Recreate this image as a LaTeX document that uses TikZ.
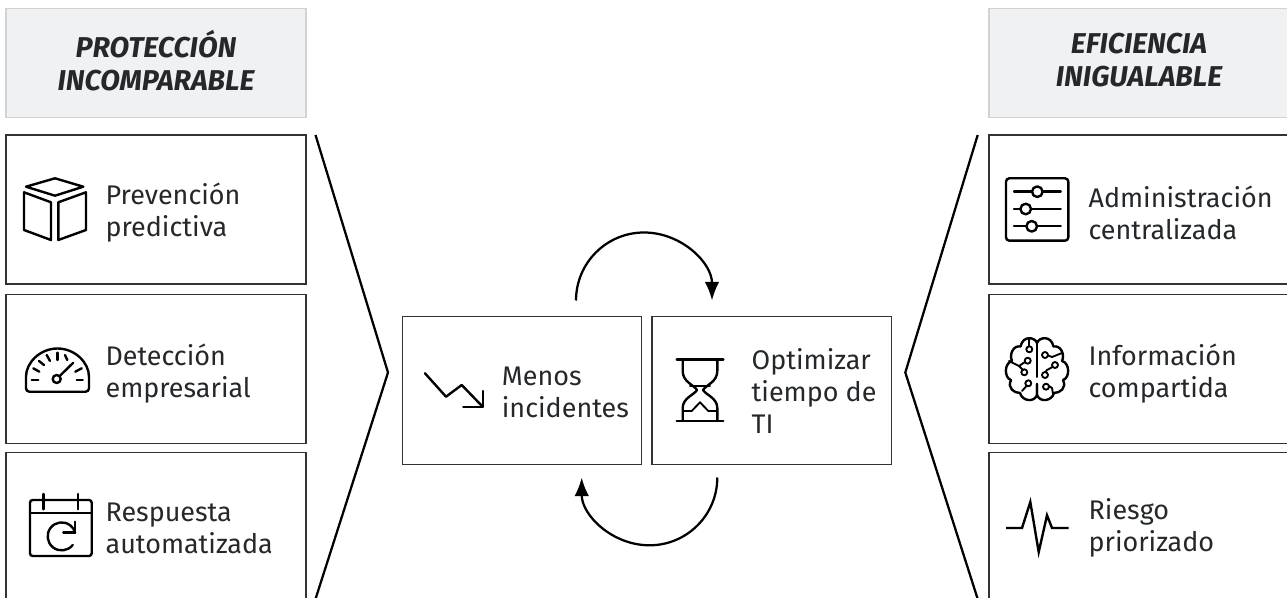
\documentclass[tikz,border=0pt]{standalone}
\usepackage{fontspec}
\setmainfont{Fira Sans}
\usetikzlibrary{arrows.meta, positioning}
\definecolor{hdrfill}{HTML}{F0F1F3}
\definecolor{hdrline}{HTML}{D0D3D6}
\definecolor{boxline}{HTML}{333333}
\definecolor{inktext}{HTML}{25282B}
\tikzset{
      hdr box/.style={
		fill=hdrfill,
		draw=hdrline,
		line width=1pt,
		minimum width=225pt,
		minimum height=82pt,
	  },
      hdr lbl/.style={
		align=center,
		inner sep=0pt,
		text=inktext,
		font=\fontsize{21.5}{24.5}\selectfont\bfseries\itshape,
	  },
      row box/.style={
		draw=boxline,
		line width=1pt,
		minimum width=225pt,
		minimum height=111.7pt,
	  },
      mid box/.style={
		draw=boxline,
		line width=1pt,
		minimum width=179.6pt,
		minimum height=111pt,
	  },
      lbl/.style={
		anchor=west,
		align=left,
		inner sep=0pt,
		text=inktext,
		font=\fontsize{20.2}{24}\selectfont,
	  },
      icon/.style={
		line width=1.8pt,
		line join=round,
		line cap=round,
	  },
      side line/.style={
		line width=1.7pt,
		line join=miter,
	  },
      loop line/.style={
		line width=1.7pt,
		-{Latex[length=14pt,width=11pt]},
	  },
  	}
\begin{document}
\begin{tikzpicture}[x=0.75pt, y=-0.75pt]
    \clip (0,0) rectangle (1287,598);
    % left column
    \node [hdr box] (hdrL) at (156,63) {};
    \node [hdr lbl] (thdrL) at ([yshift=2pt]hdrL.center) {PROTECCIÓN\\INCOMPARABLE};
    \node [row box, below=12pt of hdrL] (prev) {};
    \node [row box, below=7pt of prev] (dete) {};
    \node [row box, below=5.8pt of dete] (resp) {};
    \node [lbl] (tprev) at ([xshift=75pt, yshift=-2.2pt]prev.west) {Prevención\\predictiva};
    \node [lbl] (tdete) at ([xshift=75pt, yshift=-3.4pt]dete.west) {Detección\\empresarial};
    \node [lbl] (tresp) at ([xshift=75pt, yshift=-0.8pt]resp.west) {Respuesta\\automatizada};
    % right column
    \node [hdr box] (hdrR) at (1139,63) {};
    \node [hdr lbl] (thdrR) at ([yshift=2pt]hdrR.center) {EFICIENCIA\\INIGUALABLE};
    \node [row box, below=12pt of hdrR] (admi) {};
    \node [row box, below=7pt of admi] (info) {};
    \node [row box, below=5.8pt of info] (ries) {};
    \node [lbl] (tadmi) at ([xshift=75pt, yshift=-2.2pt]admi.west) {Administración\\centralizada};
    \node [lbl] (tinfo) at ([xshift=75pt, yshift=-3.4pt]info.west) {Información\\compartida};
    \node [lbl] (tries) at ([xshift=75pt, yshift=-0.8pt]ries.west) {Riesgo\\priorizado};
    % middle
    \node [mid box] (menos) at (522,390.4) {};
    \node [mid box, right=6.8pt of menos] (optim) {};
    \node [lbl] (tmenos) at ([xshift=75pt, yshift=-1.5pt]menos.west) {Menos\\incidentes};
    \node [lbl] (toptim) at ([xshift=75pt, yshift=-0.8pt]optim.west) {Optimizar\\tiempo de\\TI};
    % chevrons
    \coordinate (chLa) at (315.5,135);
    \coordinate (chLb) at (388,372.5);
    \coordinate (chLc) at (315.5,599);
    \coordinate (chRa) at (977.7,135);
    \coordinate (chRb) at (905.3,372.5);
    \coordinate (chRc) at (977.7,599);
    \draw [side line] (chLa) -- (chLb) -- (chLc);
    \draw [side line] (chRa) -- (chRb) -- (chRc);
    % loop arrows
    \coordinate (loopA) at (576,300.5);
    \coordinate (loopB) at (717.3,477.5);
    \draw [loop line] (loopA) arc[start angle=180, end angle=360, radius=68];
    \draw [loop line] (loopB) arc[start angle=0, end angle=180, radius=67.8];
    % cube
    \draw [icon] (26,186.7) -- (55,178.3) -- (83.3,186.7) -- (55,195.7) -- cycle;
    \draw [icon] (24,192.3) -- (51,202.3) -- (51,240) -- (24,230) -- cycle;
    \draw [icon] (58.3,202.3) -- (86,192.3) -- (86,230) -- (58.3,240) -- cycle;
    % gauge
    \draw [icon, rounded corners=2.5pt] (26,380) arc[start angle=180, end angle=360, radius=31.5] -- (89,391.7) -- (26,391.7) -- cycle;
    \draw [icon] (56.7,379) circle[radius=4];
    \draw [icon] (60,375.7) -- (73.3,362.7);
    \foreach \xa/\ya/\xb/\yb in {31.7/380/38.3/380, 76.7/380/82.7/380, 33.3/368.3/39.3/371.7, 75.3/371.7/81.7/368.3, 39/361/44/365, 46.7/355/50/361, 57.3/352.7/57.3/360, 65/355/67.3/360}
      \draw [icon] (\xa,\ya) -- (\xb,\yb);
    % calendar
    \draw [icon, rounded corners=2pt] (30,500) rectangle (91.7,556);
    \draw [icon] (30,512.7) -- (91.7,512.7);
    \draw [icon] (43.3,494) -- (43.3,509.3);
    \draw [icon] (78,494) -- (78,509.3);
    \draw [icon] (72.7,545) arc[start angle=38, end angle=345, radius=14];
    \draw [icon] (63.3,532.3) -- (75,532.3) -- (75,521.7);
    % sliders
    \draw [icon, rounded corners=2.5pt] (1006,178.3) rectangle (1068.3,240.7);
    \foreach \ya/\xa in {191.7/1037.3, 209/1025.7, 226.3/1031.7} {
      \draw [icon] (1014,\ya) -- (1060.7,\ya);
      \draw [icon, fill=white] (\xa,\ya) circle[radius=5.3];
    }
    % brain
    \foreach \sgn in {1,-1}
      \draw [icon, shift={(1037,0)}, xscale=\sgn]
        (0,343) .. controls (-2,337) and (-14,335) .. (-16.5,346.5)
        .. controls (-24,345) and (-28,355) .. (-25,361)
        .. controls (-33,363) and (-33,378) .. (-26,380)
        .. controls (-30,388) and (-23,393) .. (-17,393)
        .. controls (-15,401) and (-3,403) .. (0,395) -- (0,384);
    \draw [icon, line width=1.5pt] (1037,343) -- (1037,377);
    \foreach \xa/\ya in {1029.3/349.3, 1027.7/360.7, 1024.3/372.3, 1028.3/383.3, 1045/355, 1055/365, 1045/375, 1046/386.7}
      \draw [icon, line width=1.4pt] (\xa,\ya) circle[radius=3];
    \draw [icon, line width=1.4pt] (1029.3,346.3) -- (1029.3,338.5);
    \draw [icon, line width=1.4pt] (1025,362) -- (1019,366) -- (1009,361);
    \draw [icon, line width=1.4pt] (1019,366) -- (1023,370);
    \draw [icon, line width=1.4pt] (1026.5,386) -- (1022,391);
    \draw [icon, line width=1.4pt] (1048,355.5) -- (1052,357) -- (1062,353);
    \draw [icon, line width=1.4pt] (1052.5,367) -- (1047,370) -- (1045.5,372);
    \draw [icon, line width=1.4pt] (1049,386) -- (1052,388) -- (1053,394);
    % pulse
    \draw [icon, line cap=butt, line join=miter] (1006,528) -- (1022,528) -- (1030.3,502) -- (1038.7,552) -- (1047,515.3) -- (1052,528) -- (1068.7,528);
    % trend
    \draw [icon] (425,373.3) -- (446,396.7) -- (461.7,385) -- (482.7,406.7);
    \draw [icon] (463.3,406.7) -- (482.7,406.7) -- (482.7,391);
    % hourglass
    \draw [icon] (676.7,359.3) -- (723.3,359.3);
    \draw [icon] (676.7,421) -- (723.3,421);
    \foreach \sgn in {1,-1}
      \draw [icon, shift={(700,0)}, xscale=\sgn]
        (-17.3,359.3) -- (-17.3,371) .. controls (-17.3,382) and (-6,385) .. (-3,390)
        .. controls (-6,395) and (-17.3,398) .. (-17.3,408) -- (-17.3,421);
    \draw [icon, line width=1.4pt] (690,385.7) -- (710,385.7);
    \draw [icon, line width=1.4pt] (682.7,411) -- (691.7,411) -- (700,402.3) -- (708.3,411) -- (717.3,411);
\end{tikzpicture}
\end{document}
